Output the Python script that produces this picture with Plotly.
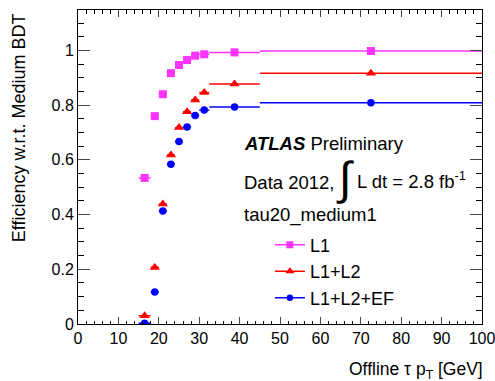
import plotly.graph_objects as go

# ---- data ----
bin_lo = [15, 18, 20, 22, 24, 26, 28, 30, 32.5, 45]
bin_hi = [18, 20, 22, 24, 26, 28, 30, 32.5, 45, 100]
pt = [16.5, 19, 21, 23, 25, 27, 29, 31.25, 38.75, 72.5]
eff_l1 = [0.534, 0.760, 0.840, 0.917, 0.947, 0.965, 0.981, 0.986, 0.993, 0.998]
eff_l1l2 = [0.030, 0.207, 0.439, 0.618, 0.718, 0.776, 0.819, 0.846, 0.877, 0.917]
eff_l1l2ef = [0.003, 0.117, 0.413, 0.584, 0.667, 0.720, 0.762, 0.782, 0.793, 0.809]

series_names = ["L1", "L1+L2", "L1+L2+EF"]
series_vals = [eff_l1, eff_l1l2, eff_l1l2ef]
colors = ["#ff33ff", "#ff0000", "#0000ff"]
symbols = ["square", "triangle-up", "circle"]
sizes = [8, 9, 7.5]

x_ticks = list(range(0, 101, 10))
y_ticks = [0, 0.2, 0.4, 0.6, 0.8, 1.0]
y_tick_text = ["0", "0.2", "0.4", "0.6", "0.8", "1"]

FONT = "Liberation Sans, Arial, sans-serif"

err_plus = [h - c for h, c in zip(bin_hi, pt)]
err_minus = [c - l for l, c in zip(bin_lo, pt)]

fig = go.Figure()
for name, vals, col, sym, sz in zip(series_names, series_vals, colors, symbols, sizes):
    fig.add_trace(go.Scatter(
        x=pt, y=vals, mode="markers", showlegend=False,
        marker=dict(symbol=sym, color=col, size=sz, line=dict(width=0)),
        error_x=dict(type="data", symmetric=False, array=err_plus, arrayminus=err_minus,
                     color=col, thickness=1.5, width=0),
    ))
for i, (name, col, sym, sz) in enumerate(zip(series_names, colors, symbols, sizes)):
    fig.add_trace(go.Scatter(
        x=[None], y=[None], mode="lines+markers", name=name,
        line=dict(color=col, width=1.5),
        marker=dict(symbol=sym, color=col, size=sz - 1),
    ))

fig.update_layout(
    width=495, height=381,
    margin=dict(l=78, r=12.5, t=10, b=57, autoexpand=False),
    plot_bgcolor="white", paper_bgcolor="white",
    font=dict(family=FONT, size=16, color="black"),
    showlegend=True,
    legend=dict(x=0.475, y=0.31, xanchor="left", yanchor="top",
                bgcolor="rgba(0,0,0,0)", font=dict(size=18), itemwidth=30),
)
fig.update_xaxes(
    range=[0, 100], tickvals=x_ticks, ticks="inside", ticklen=7, tickwidth=1,
    showline=True, linecolor="black", linewidth=1, mirror="ticks", showgrid=False,
    zeroline=False, tickfont=dict(size=16), ticklabeloverflow="allow", automargin=False,
    minor=dict(dtick=2, ticks="inside", ticklen=3.5, tickcolor="black", showgrid=False),
)
fig.update_yaxes(
    range=[0, 1.148], tickvals=y_ticks, ticktext=y_tick_text, ticks="inside", ticklen=12,
    tickwidth=1, showline=True, linecolor="black", linewidth=1, mirror="ticks",
    showgrid=False, zeroline=False, tickfont=dict(size=16), ticklabeloverflow="allow",
    automargin=False,
    minor=dict(dtick=0.05, tick0=0, ticks="inside", ticklen=6, tickcolor="black", showgrid=False),
)

def px_x(p):
    return (p - 78.3) / 404.2

def px_y(p):
    return (324 - p) / 314.0

ann = [
    dict(text="Efficiency w.r.t. Medium BDT", x=px_x(19), y=px_y(11), xanchor="center",
         yanchor="top", textangle=-90, font=dict(size=18)),
    dict(text="Offline τ p<sub>T</sub> [GeV]", x=px_x(486), y=px_y(370), xanchor="right",
         yanchor="middle", font=dict(size=17.5)),
    dict(text="<b><i>ATLAS</i></b> Preliminary", x=px_x(242), y=px_y(143), xanchor="left",
         yanchor="middle", font=dict(size=18.5)),
    dict(text="Data 2012,", x=px_x(242), y=px_y(182), xanchor="left", yanchor="middle",
         font=dict(size=18.5)),
    dict(text="∫", x=px_x(334), y=px_y(178), xanchor="left", yanchor="middle",
         font=dict(size=46)),
    dict(text="L dt = 2.8 fb<sup>-1</sup>", x=px_x(355), y=px_y(180), xanchor="left",
         yanchor="middle", font=dict(size=18.5)),
    dict(text="tau20_medium1", x=px_x(242), y=px_y(215), xanchor="left", yanchor="middle",
         font=dict(size=18.5)),
]
for a in ann:
    a.update(xref="paper", yref="paper", showarrow=False)
fig.update_layout(annotations=ann)

fig.write_html("out.html")
